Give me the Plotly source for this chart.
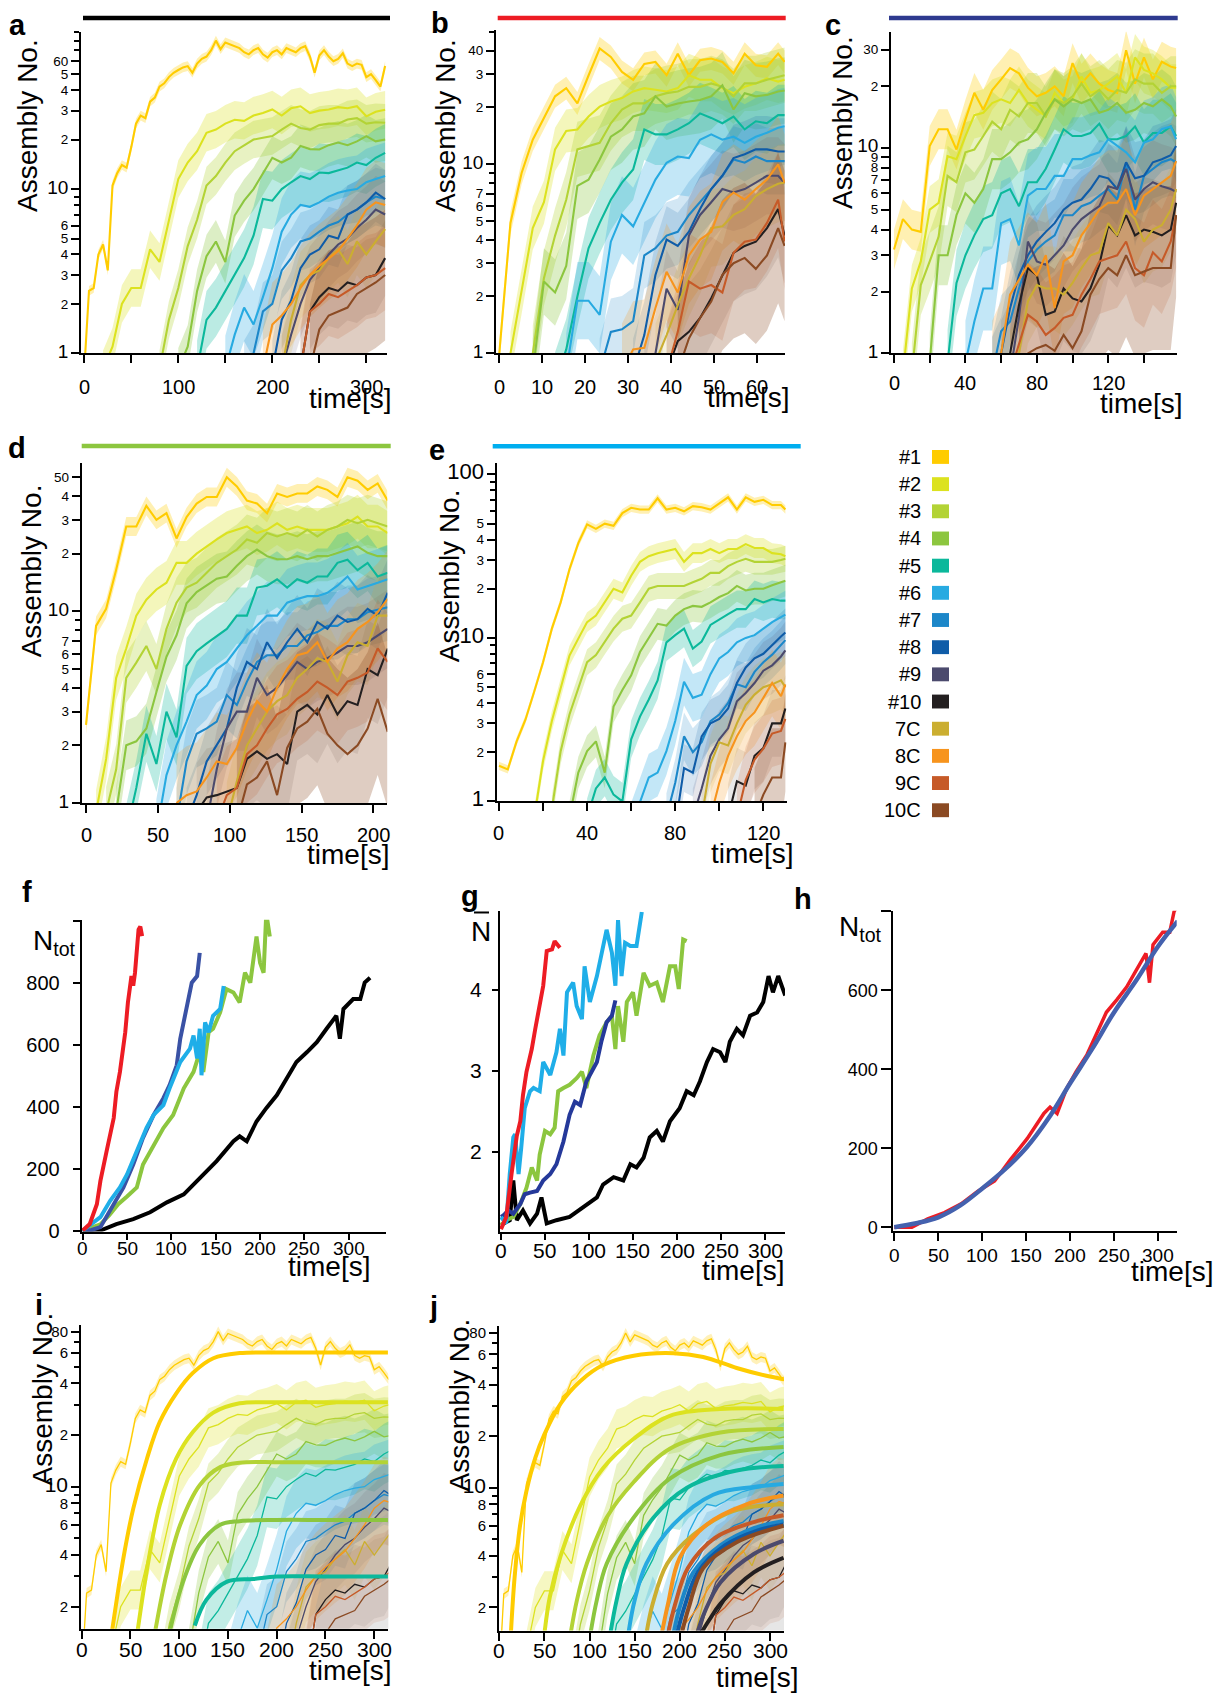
import plotly.graph_objects as go

W, H = 1222, 1706
FONT = "Liberation Sans, Arial, Helvetica, sans-serif"

NAMES = ["#1", "#2", "#3", "#4", "#5", "#6", "#7", "#8", "#9", "#10", "7C", "8C", "9C", "10C"]
COLORS = ["#FFCC00", "#DCE21F", "#B3D335", "#8CC63F", "#0BB89B", "#27AAE1", "#1C87C9",
          "#0F5CA8", "#4B4A6D", "#231F20", "#CBAE30", "#F7941D", "#C65A28", "#8B4A23"]
BAND_ALPHA = [0.3, 0.3, 0.3, 0.3, 0.28, 0.28, 0.2, 0.16, 0.14, 0.1, 0.16, 0.22, 0.16, 0.28]

# ---------------- panel a (also used in i, j) ----------------
t_a1 = [0, 5, 10, 15, 20, 25, 30, 35, 40, 45, 50, 55, 60, 65, 70, 75, 80, 85, 90, 95, 100, 105, 110,
        115, 120, 125, 130, 135, 140, 145, 150, 155, 160, 165, 170, 175, 180, 185, 190, 195, 200, 205,
        210, 215, 220, 225, 230, 235, 240, 245, 250, 255, 260, 265, 270, 275, 280, 285, 290, 295, 300,
        305, 310, 315, 320]
a1 = [0.8, 2.4, 2.5, 4.0, 4.6, 3.2, 10.5, 12.5, 14, 13.5, 18, 25, 28, 27, 34, 36, 42, 44, 48, 51,
      53, 55, 56, 51, 58, 62, 64, 70, 80, 71, 78, 76, 74, 72, 68, 66, 70, 72, 66, 63,
      68, 70, 66, 72, 70, 68, 72, 74, 64, 51, 65, 70, 64, 60, 62, 67, 58, 56, 58, 57,
      48, 50, 46, 42, 56]
t_a = [0, 10, 20, 30, 40, 50, 60, 70, 80, 90, 100, 110, 120, 130, 140, 150, 160, 170, 180, 190, 200,
       210, 220, 230, 240, 250, 260, 270, 280, 290, 300, 310, 320]
a2 = [None, None, 0.8, 1.1, 2.0, 2.5, 2.5, 4.3, 3.6, 6.5, 11.5, 14.5, 17, 22, 23, 25, 26.4, 26, 28, 29,
      30.5, 28, 31, 31.9, 29, 30, 30.5, 31.5, 31, 31.9, 27.7, 29.5, 30.4]
a3 = [None] * 8 + [0.8, 1.6, 2.5, 4.5, 6.5, 10.5, 12, 14.5, 17, 18.5, 20, 20.5, 21, 23, 25, 23.5, 23,
                   24.5, 25, 25, 26.5, 27, 25, 25.5, 25.3]
a4 = [None] * 10 + [0.8, 1.1, 2.4, 3.9, 4.8, 3.6, 6.9, 8.5, 10, 12.5, 15.5, 14.5, 15.5, 18.3, 17.5,
                    17.4, 18.5, 19.2, 18.5, 19.5, 21, 19.5, 20]
a5 = [None] * 12 + [0.8, 1.6, 1.9, 2.4, 3.0, 3.8, 5.2, 8.7, 8.5, 10, 11, 12, 11.5, 12.6, 12.5, 13,
                    13.5, 14.5, 14, 15.5, 16.6]
a6 = [None] * 15 + [0.8, 1.3, 1.9, 1.5, 2.2, 3.3, 5.5, 7, 8, 7.8, 8.3, 9, 9.5, 9.8, 10, 11, 11.5, 12]
a7 = [None] * 17 + [0.8, 1.0, 1.8, 2.0, 3.2, 3.8, 4.8, 5, 5.5, 6, 6.3, 7, 7.5, 8.3, 9, 8.7]
a8 = [None] * 20 + [0.8, 1.6, 2.1, 3.3, 4.0, 4.3, 5.2, 5.0, 7, 7.5, 8.3, 9.5, 8.7]
a9 = [None] * 21 + [0.8, 1.3, 2.0, 2.8, 3.3, 4, 4.6, 5, 5.8, 6.5, 7.5, 7]
a10 = [None] * 23 + [0.8, 1.8, 2.2, 2.5, 2.4, 2.7, 2.6, 2.9, 3.0, 3.8]
a7C = [None] * 21 + [0.8, 1.6, 2.6, 3, 3.2, 3.8, 4.3, 3.5, 4.8, 4.0, 4.8, 5.7]
a8C = [None] * 19 + [0.8, 1.5, 1.7, 2.0, 2.5, 3.0, 3.4, 3.8, 4.2, 5, 6, 7.5, 8.3, 8]
a9C = [None] * 23 + [0.8, 1.8, 2.0, 2.3, 2.2, 2.4, 2.6, 2.9, 3.0, 3.3]
a10C = [None] * 24 + [0.8, 1.4, 1.7, 1.8, 1.9, 2.3, 2.5, 2.7, 3.0]
a_series = [a1, a2, a3, a4, a5, a6, a7, a8, a9, a10, a7C, a8C, a9C, a10C]
a_times = [t_a1] + [t_a] * 13
a_band = [1.07, 1.3, 1.3, 1.35, 1.5, 1.6, 1.5, 1.5, 1.6, 1.7, 1.6, 1.8, 1.8, 2.5]

# ---------------- panel b ----------------
t_b = [0, 2.6, 5.2, 7.8, 10.4, 13, 15.6, 18.2, 20.8, 23.4, 26, 28.6, 31.2, 33.8, 36.4, 39, 41.6,
       44.2, 46.8, 49.4, 52, 54.6, 57.2, 59.8, 62.4, 65, 66.5]
b1 = [1, 4.9, 9, 13.5, 17.6, 22.9, 25.3, 21, 29.5, 41, 37, 30.8, 28, 34, 34.8, 29.6, 38.5, 29.6,
      35.5, 36.3, 34.8, 30.3, 38.5, 33.4, 32.8, 38.5, 34.8]
b2 = [None, 1, 2.1, 4.6, 6.3, 12, 15, 15.3, 17.9, 20.2, 21.5, 22.4, 24.3, 25.3, 24.8, 24.3, 25.3,
      29.6, 28, 28, 25.3, 23.8, 25.7, 26.8, 28.5, 27.4, 28]
b3 = [None, None, None, 1, 2.5, 4.2, 6.5, 12, 12.5, 13, 16.5, 19.5, 21, 21, 22.9, 23.8, 24.3, 25.7,
      25.7, 26.8, 25.7, 22.9, 26.8, 26.8, 28, 29, 29.6]
b4 = [None, None, None, 0.8, 2.4, 2.1, 2.9, 7.7, 8.3, 10.6, 14, 15.3, 17.9, 18.6, 22.9, 20.2, 21,
      21.5, 21.9, 22.9, 26.2, 19.5, 23.8, 22.9, 23.3, 24.3, 24.6]
b5 = [None] * 5 + [0.7, 1.05, 2, 3.6, 4.9, 6.5, 8, 9.4, 15.3, 14.4, 14.4, 15.3, 16.5, 18.6, 17.6,
                   16.5, 17.9, 15.3, 16.9, 16.5, 18.2, 18.2]
b6 = [None] * 6 + [0.8, 1.9, 1.9, 1.6, 3.9, 5.4, 4.7, 6.3, 8.3, 10.2, 11, 10.8, 13.5, 14.4, 13.5,
                   14, 13, 14, 14.7, 15.6, 15.9]
b7 = [None] * 9 + [0.8, 1.3, 1.34, 1.48, 3.3, 3.6, 4.2, 4.4, 5.4, 6.3, 7.4, 8.7, 10.6, 10.2, 11,
                   10.4, 10.4, 10.4]
b8 = [None] * 12 + [0.8, 1.25, 2.6, 4, 3.7, 4.4, 5.8, 7.4, 8.7, 10.8, 11.3, 12, 12, 11.7, 11.7]
b9 = [None] * 13 + [0.7, 1.0, 2.2, 1.7, 4.2, 5.4, 6.3, 7.4, 7.1, 7.4, 8, 8.7, 8.7, 8]
b10 = [None] * 15 + [0.8, 1.16, 1.3, 1.54, 1.96, 2.6, 3.4, 3.7, 3.9, 4.6, 5.8, 4.2]
b7C = [None] * 14 + [0.9, 1.25, 1.8, 2.5, 3.3, 4.6, 4.7, 5.4, 5.8, 6.8, 7.4, 7.9, 8]
b8C = [None] * 11 + [0.8, 1.05, 1.07, 1.74, 2.7, 2.1, 3.3, 4, 4.4, 6.3, 7.1, 6.5, 7.4, 8.3, 10, 8]
b9C = [None] * 15 + [0.8, 1.3, 2.4, 2.2, 2.3, 2.1, 3.4, 3.9, 4, 4.9, 6.5, 3.9]
b10C = [None] * 16 + [0.8, 1.2, 1.54, 1.88, 2.6, 3, 3.2, 2.8, 3.3, 4.6, 3.7]
b_series = [b1, b2, b3, b4, b5, b6, b7, b8, b9, b10, b7C, b8C, b9C, b10C]
b_band = [1.15, 1.3, 1.4, 1.5, 1.45, 1.6, 1.5, 1.5, 1.6, 1.8, 1.6, 1.8, 1.8, 2.5]

# ---------------- panel c ----------------
t_c = [0, 5, 10, 15, 20, 25, 30, 35, 40, 45, 50, 55, 60, 65, 70, 75, 80, 85, 90, 95, 100, 105, 110,
       115, 120, 125, 130, 135, 140, 145, 150, 155, 158]
c1 = [3.2, 4.5, 4, 3.9, 10.2, 12.3, 12.3, 9.8, 13.7, 18.5, 15.3, 19.1, 21.5, 24.4, 23, 19.6, 17.8,
      18.5, 19.9, 17.8, 25.8, 20.5, 23, 20.5, 19.1, 18.5, 29.8, 20.5, 27.5, 21.5, 26.2, 24.8, 24.4]
c2 = [None, 0.8, 2.07, 2.8, 5, 5.4, 9.1, 8.8, 11.4, 14.4, 14.8, 16.5, 17.2, 16.5, 19.1, 16.5, 15.3,
      14.2, 18.5, 16.5, 17.2, 22.2, 18.5, 19.1, 20.5, 22.2, 18.5, 27.5, 23.9, 23, 21.5, 19.6, 19.6]
c3 = [None, None, 0.8, 2.15, 2.8, 3.7, 7.3, 6.8, 9.5, 9.8, 11.4, 13.4, 12.3, 15.3, 14.2, 16.5, 16.5,
      14.2, 17.2, 16.5, 17.8, 20.5, 17.8, 19.1, 17.2, 19.1, 18.5, 21.5, 20.5, 20.5, 18.5, 19.9, 19.9]
c4 = [None] * 4 + [0.9, 3, 3, 4.7, 6, 5.4, 6.3, 8.8, 8.8, 9.5, 10.6, 11, 12.3, 14.8, 17.2, 15.9,
                   17.2, 16.5, 17.2, 14.8, 15.3, 16.5, 14.8, 15.3, 16.5, 15.9, 17.2, 15.9, 14.2]
c5 = [None] * 6 + [0.9, 2.2, 3, 3.75, 4.5, 4.7, 6, 6.3, 5.2, 6.8, 6.8, 7.9, 9.8, 12.3, 11.4, 11.4,
                   11.8, 13.1, 11, 11, 11.4, 12.7, 10.6, 11.8, 11.8, 12.7, 11.4]
c6 = [None] * 8 + [0.9, 1.43, 2.07, 2.07, 4.3, 4.5, 3.35, 5.85, 6.3, 6.3, 7.3, 7.3, 8.8, 8.8, 9.2,
                   9.5, 11, 10.2, 9.5, 8.5, 10.6, 11, 12.3, 12.7, 11]
c7 = [None] * 11 + [0.8, 1.28, 1.43, 2.07, 2.8, 3.2, 3.5, 3.75, 4.7, 4.7, 5.2, 5.4, 5.85, 6.3, 5.6,
                    8.5, 5, 7.3, 7.9, 8.5, 8.8, 8.5]
c8 = [None] * 11 + [0.8, 1.0, 1.66, 2.4, 3, 3.5, 3.9, 4.3, 5, 5.4, 5.6, 6.3, 7.3, 7.1, 6.3, 8.5,
                    7.1, 7.3, 8.5, 8.8, 9.2, 10.2]
c9 = [None] * 13 + [0.8, 1.5, 3.5, 2.8, 2.7, 3, 3.35, 4, 4.5, 4.85, 5.2, 6.5, 6.3, 7.9, 5.6, 6.3,
                    6.8, 6.5, 6.3, 6.1]
c10 = [None] * 12 + [0.8, 1.0, 1.72, 2.6, 2.4, 1.54, 1.6, 2.07, 1.85, 1.79, 2.07, 2.7, 4.2, 3.75,
                     4.7, 3.75, 4, 3.9, 3.75, 4, 5.4]
c7C = [None] * 13 + [0.8, 1.0, 1.79, 2.15, 2.07, 2.07, 1.93, 2.2, 2.6, 3, 3.1, 4.3, 3.75, 5, 4.5,
                     3.5, 4, 4.2, 5, 6.3]
c8C = [None] * 11 + [0.8, 1.0, 1.93, 2.3, 2.7, 2.4, 3, 1.66, 2.8, 3, 3.75, 4.3, 5, 5.4, 5.4, 6.3,
                     4.7, 5.85, 6.3, 6.8, 7.3, 8.6]
c9C = [None] * 13 + [0.8, 1.1, 1.54, 1.43, 1.23, 1.33, 1.49, 1.54, 1.93, 2.3, 2.8, 2.9, 3, 3.5,
                     2.6, 2.4, 3.1, 2.8, 3.5, 4.7]
c10C = [None] * 14 + [0.8, 1.0, 1.06, 1.1, 1.03, 1.23, 1.06, 1.28, 1.93, 2.3, 2.6, 2.4, 3, 2.4,
                      2.5, 2.6, 2.6, 2.6, 4.7]
c_series = [c1, c2, c3, c4, c5, c6, c7, c8, c9, c10, c7C, c8C, c9C, c10C]
c_band = [1.25, 1.3, 1.4, 1.4, 1.45, 1.6, 1.5, 1.5, 1.6, 1.8, 1.6, 1.8, 1.8, 2.5]

# ---------------- panel d ----------------
t_d = [0, 7, 14, 21, 28, 35, 42, 49, 56, 63, 70, 77, 84, 91, 98, 105, 112, 119, 126, 133, 140,
       147, 154, 161, 168, 175, 182, 189, 196, 203, 210]
d1 = [2.56, 8.4, 10.3, 16.5, 27.7, 27.7, 35.5, 30, 32.5, 24, 31, 36.5, 39.5, 39.5, 50, 44.8, 37.8,
      36.5, 32.5, 41.2, 39.5, 41.2, 41.2, 44.8, 43, 39.5, 50, 48, 43, 46.5, 37.8]
d2 = [None, 0.9, 1.7, 4.5, 6.4, 9.5, 11.5, 13, 14.1, 17.9, 17.9, 20, 21.8, 23.7, 25.6, 26.6, 27.7,
      25.6, 26.6, 28.8, 26.6, 27.7, 26.6, 26.6, 26.6, 27.7, 28.8, 31.2, 27.7, 27.7, 25.6]
d3 = [None, None, 0.9, 1.5, 4.5, 5.4, 6.6, 5, 8.1, 11.1, 13.3, 14.1, 15.9, 17.9, 19.4, 21, 23.7,
      22.8, 25.6, 24.6, 25.6, 24.6, 26.6, 24.6, 26.6, 27.7, 30, 28.8, 30, 28.8, 27.7]
d4 = [None] * 3 + [0.9, 2.0, 2.1, 2.45, 3.8, 5.8, 7.5, 11, 12.6, 13.6, 14.8, 15.2, 17.3, 19.4, 21,
                   19.4, 18.7, 18.7, 19.4, 18.7, 19.4, 19.4, 20.2, 21, 21.8, 20.2, 19.4, 19.4]
d5 = [None] * 4 + [0.7, 1.2, 2.3, 1.6, 3.0, 2.2, 5.2, 6.2, 6.8, 7.4, 8.1, 9.5, 9.5, 13.3, 13.6,
                   14.7, 13.3, 14.7, 14.1, 15.2, 15.2, 17.9, 18.6, 16.4, 17.9, 15.2, 15.9]
d6 = [None] * 7 + [0.7, 1.4, 2.0, 2.66, 3.66, 4.1, 5, 5.45, 6.4, 7.5, 8.4, 9.5, 9.5, 11.1, 11.6,
                   12, 12, 12.5, 13.6, 15.2, 13, 13.6, 14.1, 14.7]
d7 = [None] * 9 + [0.8, 1.65, 2.3, 2.45, 2.66, 3.66, 3.25, 4.3, 5.45, 5.9, 5.9, 6.6, 6.6, 7.5, 7.8,
                   8.4, 8.4, 9.1, 9.1, 9.9, 10.2, 10.5]
d8 = [None] * 10 + [0.8, 1.1, 1.65, 2.0, 2.45, 4.0, 5.45, 5.0, 6.9, 5.7, 6.9, 8.1, 6.9, 8.8, 8.1,
                    9.5, 8.8, 9.1, 10.3, 9.5, 12.5]
d9 = [None] * 12 + [0.8, 1.5, 2.45, 3, 3, 4.5, 3.66, 4, 4.65, 5.45, 5, 5.45, 5.7, 6.1, 6.6, 6.6,
                    6.9, 7.5, 8.1]
d10 = [None] * 11 + [0.9, 1.07, 1.1, 1.15, 1.2, 1.7, 1.86, 1.7, 1.8, 1.6, 3.0, 3.25, 2.9, 3.66,
                     2.9, 3.4, 3.25, 5.0, 4.65, 6.4]
d7C = [None] * 14 + [0.8, 1.3, 2, 2.45, 3, 3.4, 3.66, 4.5, 5, 5.7, 5.45, 4.3, 5.9, 6.9, 6.6, 9.5, 9.5]
d8C = [None] * 9 + [1.0, 1.1, 1.15, 1.36, 1.65, 1.6, 1.94, 2.66, 3.4, 3, 4, 5, 5.9, 6.1, 6.9, 5.45,
                    6.4, 6.9, 8.1, 8.8, 9.9, 11.6]
d9C = [None] * 13 + [0.8, 1.1, 1.2, 1.8, 2, 2.45, 2.9, 3.1, 3.5, 3.8, 4.3, 4, 3.66, 4.3, 4.5, 4.8,
                     6.4, 5.45]
d10C = [None] * 15 + [0.8, 1.25, 1.36, 1.65, 1.1, 1.94, 2.45, 2.66, 3.1, 2.3, 2, 1.8, 2, 2.45, 3.5,
                      2.35]
d_series = [d1, d2, d3, d4, d5, d6, d7, d8, d9, d10, d7C, d8C, d9C, d10C]
d_band = [1.12, 1.3, 1.35, 1.35, 1.4, 1.5, 1.5, 1.5, 1.6, 1.8, 1.6, 1.8, 1.8, 2.5]

# ---------------- panel e ----------------
t_e = [0, 4, 8, 12, 16, 20, 24, 28, 32, 36, 40, 44, 48, 52, 56, 60, 64, 68, 72, 76, 80, 84, 88, 92,
       96, 100, 104, 108, 112, 116, 120, 124, 128, 130]
e1 = [1.65, 1.57, 2.33, 3.16, 4.7, 7.1, 11.4, 16.5, 26.3, 38, 49.5, 46.5, 50, 48.5, 58, 62.5, 61, 61,
      71.5, 61, 62.5, 59.5, 64, 63, 61, 66.5, 72.5, 61, 72.5, 68, 70, 65, 65, 61]
e2 = [None] * 4 + [0.8, 1.77, 3.1, 4.9, 7.8, 9.9, 12.5, 13.7, 16.5, 20, 19, 24, 29.2, 31.6, 33, 34,
                   35, 29.2, 33, 33, 35, 33, 35, 35, 37.5, 35.5, 35.5, 33, 32.5, 31.6]
e3 = [None] * 6 + [0.9, 2.03, 3.4, 4.9, 7.1, 7.85, 9.5, 11.4, 13.1, 13.7, 16.5, 20, 20.8, 20.8,
                   20.8, 20.8, 21.9, 23, 25, 25, 27.5, 29.2, 30.5, 29.2, 29.2, 29.2, 30, 30.5]
e4 = [None] * 8 + [0.8, 1.5, 2.03, 2.33, 1.5, 3.8, 4.8, 5.9, 8.2, 10, 12.2, 11.9, 13.7, 15, 15.7,
                   15.5, 16.5, 17.8, 18.8, 20.8, 19.5, 20, 20, 21, 22, 22.4]
e5 = [None] * 10 + [0.8, 1.2, 1.4, 1.1, 1.0, 2.4, 3.3, 4.2, 5.5, 9.4, 10.4, 11.4, 8.6, 9.5, 12, 13,
                    14, 15, 15, 17.3, 16.5, 17.3, 16.9, 16.9]
e6 = [None] * 15 + [0.7, 1.0, 1.4, 1.5, 2.03, 3.1, 5.4, 4.3, 4.5, 6, 7.5, 8.2, 9.4, 10, 10.4, 11.4,
                    12.5, 13.4, 13.9]
e7 = [None] * 19 + [0.8, 1.3, 2.5, 2.0, 2.3, 3.1, 3.4, 4.0, 5.2, 5.0, 6.2, 7.1, 7.9, 9, 9.7]
e8 = [None] * 20 + [0.7, 1.6, 1.5, 2.5, 3.0, 3.2, 3.7, 5.3, 6.6, 7.5, 8, 9.1, 10.2, 10.8]
e9 = [None] * 22 + [0.8, 1.2, 1.9, 2.4, 2.8, 4.1, 4.6, 5.3, 6.3, 6.8, 7.7, 8.4]
e10 = [None] * 26 + [0.8, 1.33, 1.25, 1.9, 2.12, 3.0, 3.0, 3.7]
e7C = [None] * 23 + [0.8, 1.7, 2.3, 2.2, 3.0, 3.9, 4.5, 5, 5.2, 5.5, 5]
e8C = [None] * 24 + [0.8, 1.3, 1.9, 2.5, 3.1, 3.5, 4.3, 5.3, 4.4, 5.2]
e9C = [None] * 27 + [0.8, 1.35, 1.8, 2.1, 2.6, 2.7, 3.2]
e10C = [None] * 29 + [0.8, 1.1, 1.4, 1.4, 2.3]
e_series = [e1, e2, e3, e4, e5, e6, e7, e8, e9, e10, e7C, e8C, e9C, e10C]
e_band = [1.06, 1.15, 1.2, 1.25, 1.3, 1.4, 1.4, 1.4, 1.5, 1.6, 1.5, 1.6, 1.6, 2.0]

# ---------------- panel f (N_tot) ----------------
f_red_t = [0, 8, 16, 20, 27, 35, 38, 42, 48, 51, 55, 57, 59, 63, 65, 67]
f_red = [0, 21, 85, 160, 256, 363, 448, 512, 640, 736, 821, 790, 832, 971, 981, 950]
f_navy_t = [0, 10, 20, 31, 46, 57, 68, 80, 91, 98, 106, 110, 117, 123, 129, 132]
f_navy = [0, 2, 11, 64, 139, 213, 299, 373, 427, 469, 533, 619, 715, 800, 821, 896]
f_sky_t = [0, 8, 20, 31, 42, 50, 61, 72, 80, 91, 98, 110, 121, 125, 129, 132, 134, 138, 142, 147,
           155, 159]
f_sky = [0, 16, 43, 96, 139, 181, 256, 331, 373, 405, 459, 544, 587, 629, 555, 651, 501, 672, 640,
         693, 715, 789]
f_green_t = [0, 20, 30, 40, 50, 61, 68, 80, 91, 102, 114, 125, 132, 136, 142, 147, 155, 162, 170,
             177, 183, 189, 196, 200, 204, 207, 211]
f_green = [0, 20, 50, 85, 110, 139, 213, 277, 331, 373, 459, 512, 576, 512, 640, 651, 704, 779, 768,
           736, 832, 800, 949, 864, 832, 1024, 949]
f_black_t = [0, 20, 38, 57, 76, 95, 114, 132, 151, 170, 177, 185, 196, 207, 219, 230, 241, 253, 264,
             275, 286, 290, 294, 305, 313, 318, 324]
f_black = [0, 0, 21, 37, 59, 91, 117, 171, 224, 288, 304, 288, 352, 395, 437, 491, 544, 576, 608,
           651, 693, 619, 715, 747, 747, 800, 816]

# ---------------- panel g (mean N) ----------------
g_red_t = [0, 6, 12, 18, 22, 25, 29, 35, 39, 42, 48, 52, 58, 61, 67]
g_red = [1.05, 1.2, 1.73, 2.2, 2.38, 2.7, 2.99, 3.27, 3.52, 3.72, 4.05, 4.48, 4.5, 4.6, 4.52]
g_sky_t = [0, 3, 6, 10, 14, 16, 20, 23, 27, 33, 37, 44, 48, 56, 63, 67, 71, 75, 82, 86, 92, 95, 101,
           109, 114, 120, 126, 130, 133, 137, 141, 147, 154, 160]
g_sky = [1.2, 1.16, 1.12, 1.73, 2.18, 2.22, 1.73, 2.05, 2.54, 2.75, 2.79, 2.75, 3.11, 2.95, 3.23,
         3.52, 3.19, 3.97, 4.09, 3.8, 3.64, 4.29, 3.85, 4.17, 4.42, 4.74, 4.46, 4.05, 4.86, 4.17,
         4.58, 4.54, 4.54, 4.96]
g_navy_t = [0, 3, 8, 14, 22, 27, 33, 41, 48, 56, 63, 71, 78, 84, 90, 97, 103, 109, 114, 120, 126, 130]
g_navy = [1.2, 1.22, 1.28, 1.24, 1.36, 1.48, 1.5, 1.52, 1.65, 1.73, 1.85, 2.13, 2.46, 2.62, 2.58,
          2.87, 2.99, 3.11, 3.36, 3.6, 3.68, 3.87]
g_green_t = [0, 6, 14, 22, 29, 35, 41, 44, 50, 56, 61, 65, 71, 78, 86, 92, 97, 105, 112, 120, 126,
             130, 133, 139, 143, 150, 154, 162, 169, 177, 184, 192, 198, 202, 207, 211]
g_green = [1.1, 1.16, 1.2, 1.36, 1.56, 1.81, 1.65, 1.97, 2.26, 2.22, 2.3, 2.75, 2.79, 2.83, 2.91,
           2.99, 2.79, 3.19, 3.44, 3.6, 3.68, 3.27, 3.8, 3.36, 3.85, 3.97, 3.68, 4.21, 4.05, 4.09,
           3.85, 4.29, 4.29, 4.01, 4.62, 4.6]
g_black_t = [0, 10, 14, 18, 25, 33, 41, 46, 52, 63, 78, 94, 109, 116, 128, 139, 147, 154, 162, 169,
             177, 184, 192, 203, 211, 219, 226, 234, 241, 249, 255, 260, 268, 275, 283, 291, 298,
             304, 309, 315, 323]
g_black = [1.1, 1.16, 1.65, 1.16, 1.28, 1.12, 1.24, 1.44, 1.12, 1.16, 1.2, 1.32, 1.44, 1.6, 1.69,
           1.65, 1.85, 1.81, 1.93, 2.18, 2.26, 2.13, 2.38, 2.54, 2.75, 2.7, 2.87, 3.11, 3.27, 3.23,
           3.11, 3.36, 3.52, 3.44, 3.68, 3.72, 3.85, 4.17, 3.97, 4.17, 3.93]

# ---------------- panel h (fit) ----------------
h_fit_t = [0, 25, 50, 75, 100, 125, 150, 175, 200, 225, 250, 275, 300, 322]
h_fit = [0, 10, 25, 55, 98, 145, 201, 275, 365, 452, 545, 625, 712, 775]

# ---------------- panel i fits ----------------
i_fit_t = [[30, 43, 53, 67, 80, 97, 114, 135, 162, 200, 250, 314],
           [57, 67, 80, 97, 114, 135, 162, 200, 250, 314],
           [75, 87, 101, 121, 142, 162, 200, 250, 314],
           [90, 104, 121, 142, 162, 200, 250, 314],
           [116, 128, 149, 176, 200, 250, 314]]
i_fit_v = [[1.3, 3.9, 7.5, 14.6, 23.8, 35, 46, 56, 60, 60.5, 60.5, 60.5],
           [1.4, 3.3, 7.8, 14.6, 20.8, 27, 30.6, 31, 31, 31],
           [1.4, 3.1, 6, 10.2, 13, 13.8, 13.9, 13.9, 13.9],
           [1.4, 2.8, 4.6, 6, 6.3, 6.4, 6.4, 6.4],
           [1.55, 2.2, 2.8, 2.9, 3.0, 3.0, 3.0]]
i_fit_idx = [0, 1, 2, 3, 4]

# ---------------- panel j fits ----------------
j_fit_t = [[13, 17, 23, 30, 40, 50, 68, 90, 115, 149, 193, 226, 263, 296, 315],
           [50, 56, 68, 90, 115, 149, 189, 245, 315],
           [79, 86, 97, 119, 149, 189, 245, 315],
           [101, 108, 119, 149, 189, 245, 315],
           [123, 130, 141, 171, 208, 263, 315],
           [143, 150, 163, 193, 237, 282, 315],
           [193, 200, 215, 245, 282, 315],
           [197, 205, 220, 250, 285, 315],
           [219, 228, 245, 282, 315],
           [223, 233, 245, 282, 315],
           [163, 170, 186, 215, 259, 315],
           [180, 187, 200, 230, 274, 315],
           [187, 195, 209, 239, 282, 315],
           [202, 210, 226, 263, 315]]
j_fit_v = [[1.45, 3, 6, 9.5, 15, 20.5, 31, 42, 52, 59, 61, 58, 50, 45, 43],
           [1.4, 2.3, 4, 7.9, 13, 19.3, 26.3, 28.8, 28.8],
           [1.4, 2.2, 3.6, 6.7, 10.8, 16.9, 21, 22],
           [1.4, 2.2, 3.6, 6.7, 11.3, 15.5, 17.3],
           [1.4, 2.2, 3.6, 6.7, 10, 12.6, 13.4],
           [1.4, 2.2, 3.6, 6.1, 9.1, 10.1, 10.5],
           [1.4, 2.0, 3.2, 4.6, 5.8, 6.4],
           [1.4, 2.0, 3.2, 4.6, 5.6, 6.1],
           [1.4, 1.9, 2.8, 4.1, 4.9],
           [1.4, 1.7, 2.1, 3.2, 3.9],
           [1.4, 2.1, 3.6, 5.3, 7.3, 8],
           [1.4, 2.1, 3.9, 6.1, 8, 9],
           [1.4, 2.1, 3.4, 5.1, 6.3, 6.9],
           [1.4, 2.0, 3.4, 4.8, 6]]

# ---------------- helpers ----------------
fig = go.Figure()


def rgba(hexc, a):
    hexc = hexc.lstrip('#')
    return "rgba(%d,%d,%d,%s)" % (int(hexc[0:2], 16), int(hexc[2:4], 16), int(hexc[4:6], 16), a)


def axn(n):
    return '' if n == 1 else str(n)


def add_line(n, t, v, color, width, shape='linear'):
    fig.add_trace(go.Scatter(x=t, y=v, mode='lines', line=dict(color=color, width=width, shape=shape),
                             hoverinfo='skip', showlegend=False,
                             xaxis='x' + axn(n), yaxis='y' + axn(n)))


def add_band(n, t, v, fac, color, alpha):
    xs, up, lo = [], [], []
    for ti, vi in zip(t, v):
        if vi is None:
            continue
        xs.append(ti)
        up.append(vi * fac)
        lo.append(vi / fac)
    fig.add_trace(go.Scatter(x=xs + xs[::-1], y=up + lo[::-1], mode='lines', fill='toself',
                             fillcolor=rgba(color, alpha), line=dict(width=0), hoverinfo='skip',
                             showlegend=False, xaxis='x' + axn(n), yaxis='y' + axn(n)))


def add_assembly_panel(n, times, series, bands, lw=2.1, alpha_scale=1.0, band_cols=COLORS):
    for k in range(len(series)):
        add_band(n, times[k], series[k], bands[k], band_cols[k], BAND_ALPHA[k] * alpha_scale)
    for k in range(len(series)):
        add_line(n, times[k], series[k], COLORS[k], lw)


# ---------------- traces ----------------
add_assembly_panel(1, a_times, a_series, a_band)
add_assembly_panel(2, [t_b] * 14, b_series, b_band)
add_assembly_panel(3, [t_c] * 14, c_series, c_band)
add_assembly_panel(4, [t_d] * 14, d_series, d_band)
add_assembly_panel(5, [t_e] * 14, e_series, e_band)

RED, NAVY_F, NAVY_G, SKY, GREEN = "#ED1C24", "#3A52A5", "#25399A", "#1FAEE8", "#8CC63F"
add_line(6, f_black_t, f_black, "black", 4)
add_line(6, f_green_t, f_green, GREEN, 4)
add_line(6, f_navy_t, f_navy, NAVY_F, 4)
add_line(6, f_sky_t, f_sky, SKY, 4)
add_line(6, f_red_t, f_red, RED, 4)

add_line(7, g_black_t, g_black, "black", 4)
add_line(7, g_green_t, g_green, GREEN, 4)
add_line(7, g_navy_t, g_navy, NAVY_G, 4)
add_line(7, g_sky_t, g_sky, SKY, 4)
add_line(7, g_red_t, g_red, RED, 4)

add_line(8, f_black_t, f_black, RED, 3.5)
add_line(8, h_fit_t, h_fit, "#4461AE", 4.5, shape='spline')

ij_band_cols = COLORS[:13] + ["#9A9A9A"]
add_assembly_panel(9, a_times, a_series, a_band, lw=1.3, alpha_scale=0.9, band_cols=ij_band_cols)
for k, idx in enumerate(i_fit_idx):
    add_line(9, i_fit_t[k], i_fit_v[k], COLORS[idx], 4, shape='spline')
add_assembly_panel(10, a_times, a_series, a_band, lw=1.3, alpha_scale=0.9, band_cols=ij_band_cols)
for k in range(14):
    add_line(10, j_fit_t[k], j_fit_v[k], COLORS[k], 4, shape='spline')

# ---------------- axes ----------------
SMALL, BIG = 13.5, 19


def big(s, size=BIG):
    return '<span style="font-size:%dpx">%s</span>' % (size, s)


def logticks(labels, bigsize=BIG):
    return [big(l, bigsize) if l in ('1', '10', '100') else l for l in labels]


panels = {
    1: dict(box=(81, 28, 387, 352.3), xr=[-3.5, 322], yr=[0, 1.957], log=True),
    2: dict(box=(496, 26.7, 785, 352.3), xr=[-0.77, 66.6], yr=[0, 1.708], log=True),
    3: dict(box=(891, 28, 1177, 352.3), xr=[-1.68, 158.5], yr=[0, 1.564], log=True),
    4: dict(box=(81.7, 463.3, 387.3, 805.7), xr=[-3.0, 209.7], yr=[0, 1.771], log=True),
    5: dict(box=(496.7, 463.3, 786.7, 804), xr=[-1.04, 130.6], yr=[0, 2.067], log=True),
    6: dict(box=(81.7, 923.3, 386, 1237.7), xr=[-1.1, 342], yr=[-3.2, 1003], log=False),
    7: dict(box=(500, 915, 785, 1237.7), xr=[-1.1, 322.7], yr=[1.02, 4.966], log=False),
    8: dict(box=(893.3, 914.3, 1176.7, 1237.3), xr=[-1.1, 320.9], yr=[-10, 801], log=False),
    9: dict(box=(81, 1331.7, 388.3, 1638.3), xr=[-0.7, 314.4], yr=[0.172, 1.943], log=True),
    10: dict(box=(499, 1333.3, 784, 1640), xr=[-0.3, 315.5], yr=[0.166, 1.942], log=True),
}

t300 = [0, 50, 100, 150, 200, 250, 300]
# x tick labels drawn as text at the reference's label height (ylab in px)
xt = {
    1: dict(vals=[0, 100, 200, 300], minor=[50, 150, 250], size=20, ylab=386, len=8),
    2: dict(vals=[0, 10, 20, 30, 40, 50, 60], minor=[], size=20, ylab=386, len=8),
    3: dict(vals=[0, 40, 80, 120], minor=[20, 60, 100, 140], size=20, ylab=382, len=8),
    4: dict(vals=[0, 50, 100, 150, 200], minor=[], size=20, ylab=838, len=8),
    5: dict(vals=[0, 40, 80, 120], minor=[20, 60, 100], size=20, ylab=836, len=8),
    6: dict(vals=t300, minor=[], size=19, ylab=1255, len=6),
    7: dict(vals=t300, minor=[], size=21, ylab=1257, len=6),
    8: dict(vals=t300, minor=[], size=19, ylab=1262, len=8),
    9: dict(vals=t300, minor=[], size=21, ylab=1659, len=8),
    10: dict(vals=t300, minor=[], size=21, ylab=1660, len=8),
}

ij_vals = [2, 4, 6, 8, 10, 20, 40, 60, 80]
ij_text = ['2', '4', '6', '8', big('10', 21), '2', '4', '6', '80']
yt = {
    1: dict(vals=[1, 2, 3, 4, 5, 6, 10, 20, 30, 40, 50, 60],
            text=logticks(['1', '2', '3', '4', '5', '6', '10', '2', '3', '4', '5', '60']),
            minor=[7, 8, 9, 70, 80, 90], size=SMALL, len=8, so=0),
    2: dict(vals=[1, 2, 3, 4, 5, 6, 7, 10, 20, 30, 40],
            text=logticks(['1', '2', '3', '4', '5', '6', '7', '10', '2', '3', '40']),
            minor=[8, 9, 50], size=SMALL, len=8, so=0),
    3: dict(vals=[1, 2, 3, 4, 5, 6, 7, 8, 9, 10, 20, 30],
            text=logticks(['1', '2', '3', '4', '5', '6', '7', '8', '9', '10', '2', '30']),
            minor=[], size=SMALL, len=8, so=0),
    4: dict(vals=[1, 2, 3, 4, 5, 6, 7, 10, 20, 30, 40, 50],
            text=logticks(['1', '2', '3', '4', '5', '6', '7', '10', '2', '3', '4', '50']),
            minor=[8, 9], size=SMALL, len=8, so=0),
    5: dict(vals=[1, 2, 3, 4, 5, 6, 10, 20, 30, 40, 50, 100],
            text=logticks(['1', '2', '3', '4', '5', '6', '10', '2', '3', '4', '5', '100'], 22),
            minor=[7, 8, 9, 60, 70, 80, 90], size=SMALL, len=8, so=0),
    6: dict(vals=[0, 200, 400, 600, 800], text=['0', '200', '400', '600', '800'],
            minor=[1000], size=20, len=7, so=9),
    7: dict(vals=[2, 3, 4], text=['2', '3', '4'], minor=[], size=21, len=6, so=6),
    8: dict(vals=[0, 200, 400, 600], text=['0', '200', '400', '600'], minor=[800], size=18,
            len=10, so=0),
    9: dict(vals=ij_vals, text=ij_text, minor=[3, 5, 7, 9, 30, 50, 70], size=15, len=8, so=0),
    10: dict(vals=ij_vals, text=ij_text, minor=[3, 5, 7, 9, 30, 50, 70], size=15, len=8, so=0),
}

ann = []
shapes = []

layout = {}
for n, p in panels.items():
    x0, y0, x1, y1 = p['box']
    xa = dict(domain=[x0 / W, x1 / W], range=p['xr'], anchor='y' + axn(n),
              showline=True, linecolor='black', linewidth=2, ticks='outside', ticklen=xt[n]['len'],
              tickwidth=1.5, tickcolor='black', showgrid=False, zeroline=False,
              tickmode='array', tickvals=xt[n]['vals'], showticklabels=False)
    if xt[n]['minor']:
        xa['minor'] = dict(tickmode='array', tickvals=xt[n]['minor'], ticks='outside',
                           ticklen=xt[n]['len'], tickwidth=1.5, tickcolor='black', showgrid=False)
    ya = dict(domain=[1 - y1 / H, 1 - y0 / H], range=p['yr'], anchor='x' + axn(n),
              type='log' if p['log'] else 'linear',
              showline=True, linecolor='black', linewidth=2, ticks='outside', ticklen=yt[n]['len'],
              tickwidth=1.5, tickcolor='black', showgrid=False, zeroline=False,
              tickmode='array', tickvals=yt[n]['vals'], ticktext=yt[n]['text'],
              ticklabelstandoff=yt[n]['so'],
              tickfont=dict(family=FONT, size=yt[n]['size'], color='black'))
    if yt[n]['minor']:
        ya['minor'] = dict(tickmode='array', tickvals=yt[n]['minor'], ticks='outside',
                           ticklen=5 if p['log'] else yt[n]['len'],
                           tickwidth=1.5, tickcolor='black', showgrid=False)
    layout['xaxis' + axn(n)] = xa
    layout['yaxis' + axn(n)] = ya
    for v in xt[n]['vals']:
        ann.append(dict(x=v, xref='x' + axn(n), y=1 - xt[n]['ylab'] / H, yref='paper', text=str(v),
                        showarrow=False, xanchor='center', yanchor='middle',
                        font=dict(family=FONT, size=xt[n]['size'], color='black')))


# ---------------- annotations & shapes ----------------
def text(x, y, s, size, bold=False, angle=0, xanchor='center', yanchor='middle'):
    ann.append(dict(x=x / W, y=1 - y / H, xref='paper', yref='paper', text=('<b>%s</b>' % s) if bold else s,
                    showarrow=False, textangle=angle, xanchor=xanchor, yanchor=yanchor,
                    font=dict(family=FONT, size=size, color='black')))


for lab, x, y in [('a', 17, 21), ('b', 440, 19), ('c', 833, 21), ('d', 17, 448), ('e', 437, 450),
                  ('f', 27, 895), ('g', 470, 899), ('h', 803, 902), ('i', 39, 1312), ('j', 433, 1314)]:
    text(x, y, lab, 29, bold=True)

for x, y in [(28, 123), (446, 123), (842, 120), (31, 572), (449, 577), (42, 1407), (459, 1412)]:
    text(x, y, 'Assembly No.', 28, angle=-90)

for x, y in [(350, 398), (748, 397), (1141, 403), (348, 858), (752, 857), (329, 1273), (743, 1277),
             (1172, 1278), (350, 1680), (757, 1687)]:
    text(x, y, 'time[s]', 28)

text(31, 946, 'N<sub>tot</sub>', 28, xanchor='left')
text(837, 932, 'N<sub>tot</sub>', 28, xanchor='left')
text(481, 935, 'N', 28)
shapes.append(dict(type='line', xref='paper', yref='paper', x0=474 / W, x1=489 / W,
                   y0=1 - 916 / H, y1=1 - 916 / H, line=dict(color='black', width=2)))

# top colour bars
for x0, x1, y, col in [(83, 390, 14, 'black'), (497.7, 785.7, 14, RED), (889, 1177.7, 14, '#2E3A8F'),
                       (81.7, 390.7, 445.7, GREEN), (492.7, 800.7, 446, '#00AEEF')]:
    shapes.append(dict(type='line', xref='paper', yref='paper', x0=x0 / W, x1=x1 / W,
                       y0=1 - y / H, y1=1 - y / H, line=dict(color=col, width=4.5)))

# legend
for k, (nm, col) in enumerate(zip(NAMES, COLORS)):
    cy = 456.7 + 27.4 * k
    text(923, cy, nm, 20, xanchor='right')
    shapes.append(dict(type='rect', xref='paper', yref='paper', x0=932 / W, x1=949 / W,
                       y0=1 - (cy + 7) / H, y1=1 - (cy - 7) / H, fillcolor=col,
                       line=dict(width=0)))

fig.update_layout(**layout)
fig.update_layout(width=W, height=H, margin=dict(l=0, r=0, t=0, b=0), paper_bgcolor='white',
                  plot_bgcolor='white', showlegend=False, annotations=ann, shapes=shapes,
                  font=dict(family=FONT, color='black'))
fig.write_html("out.html", config={'displayModeBar': False},
               post_script="document.body.style.margin='0px';document.documentElement.style.overflow='hidden';")
